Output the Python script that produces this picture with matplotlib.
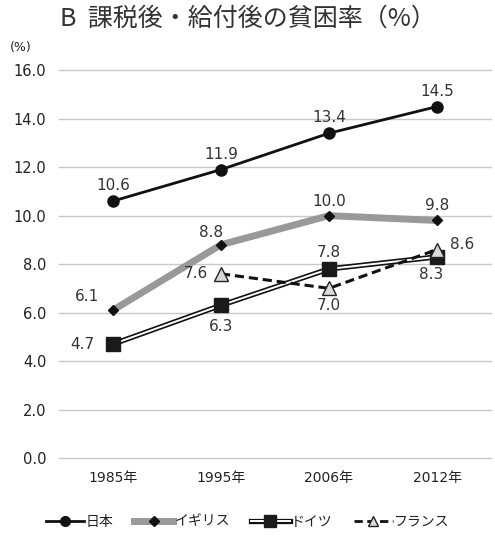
import matplotlib.pyplot as plt
from matplotlib.legend_handler import HandlerTuple
from matplotlib.lines import Line2D

plt.rcParams['font.family'] = ['DejaVu Sans', 'Noto Sans CJK JP']

years = ['1985年', '1995年', '2006年', '2012年']
japan = [10.6, 11.9, 13.4, 14.5]
uk = [6.1, 8.8, 10.0, 9.8]
germany = [4.7, 6.3, 7.8, 8.3]
france = [None, 7.6, 7.0, 8.6]

fig = plt.figure(figsize=(4.95, 5.36), dpi=100)
ax = fig.add_axes([0.119, 0.1455, 0.873, 0.7235])
x = list(range(len(years)))

ax.set_ylim(0, 16)
ax.set_xlim(-0.5, 3.5)
ax.set_yticks([0, 2, 4, 6, 8, 10, 12, 14, 16])
ax.set_yticklabels(['%.1f' % v for v in ax.get_yticks()], fontsize=10.5, color='#222222')
ax.set_xticks(x)
ax.set_xticklabels(years, fontsize=10, color='#222222')
ax.tick_params(length=0, pad=9)
ax.grid(axis='y', color='#c8c8c8', lw=1)
for gl in ax.get_ygridlines():
    gl.set_clip_on(False)
ax.set_axisbelow(True)
for s in ax.spines.values():
    s.set_visible(False)

# lines
ax.plot(x, uk, color='#999999', lw=5, zorder=3, solid_capstyle='butt')
ax.plot(x, uk, ls='none', marker='D', ms=5, color='#111111', zorder=4)
ax.plot(x, germany, color='#111111', lw=3.8, zorder=5)
ax.plot(x, germany, color='white', lw=1.4, zorder=6)
ax.plot(x, germany, ls='none', marker='s', ms=10, color='#1a1a1a', zorder=7)
fx = x[1:]
fy = france[1:]
ax.plot(fx, fy, color='#111111', lw=2.2, ls=(0, (3, 1.6)), zorder=8)
ax.plot(fx, fy, ls='none', marker='^', ms=10, mfc='#d9d9d9', mec='#222222', mew=1, zorder=9)
ax.plot(x, japan, color='#111111', lw=2, marker='o', ms=8, zorder=10)

lab = dict(fontsize=11, color='#333333', ha='center', va='center', zorder=12)
def note(xi, yi, text, dx, dy):
    ax.annotate(text, (xi, yi), xytext=(dx, dy), textcoords='offset points', **lab)

for i, v in enumerate(japan):
    note(i, v, '%.1f' % v, 0, 11)
note(0, uk[0], '6.1', -19, 10)
note(1, uk[1], '8.8', -7, 9)
note(2, uk[2], '10.0', 0, 10)
note(3, uk[3], '9.8', 0, 11)
note(0, germany[0], '4.7', -22, 0)
note(1, germany[1], '6.3', 0, -15)
note(2, germany[2], '7.8', 0, 12)
note(3, germany[3], '8.3', -4, -13)
note(1, france[1], '7.6', -18, 0)
note(2, france[2], '7.0', 0, -12)
note(3, france[3], '8.6', 18, 4)

fig.text(0.02, 0.912, '(%)', fontsize=9, color='#222222', ha='left', va='center')
fig.text(0.5, 0.966, 'B  課税後・給付後の貧困率（%）', fontsize=18, color='#333333',
         ha='center', va='center', family=['Noto Sans CJK JP', 'DejaVu Sans'])

h_jp = Line2D([], [], color='#111111', lw=2, marker='o', ms=7)
h_uk = (Line2D([], [], color='#999999', lw=5),
        Line2D([], [], ls='none', marker='D', ms=5, color='#111111'))
h_de = (Line2D([], [], color='#111111', lw=3.8),
        Line2D([], [], color='white', lw=1.4),
        Line2D([], [], ls='none', marker='s', ms=8, color='#1a1a1a'))
h_fr = (Line2D([], [], color='#111111', lw=2, ls=(0, (3, 1.6))),
        Line2D([], [], ls='none', marker='^', ms=7, mfc='#d9d9d9', mec='#222222'))
leg = fig.legend([h_jp, h_uk, h_de, h_fr], ['日本', 'イギリス', 'ドイツ', 'フランス'],
                 handler_map={tuple: HandlerTuple(ndivide=1, pad=0)},
                 loc='center', bbox_to_anchor=(0.5, 0.027), ncol=4, frameon=False,
                 handlelength=2.8, handletextpad=0.1, columnspacing=1.5,
                 prop={'family': ['Noto Sans CJK JP', 'DejaVu Sans'], 'size': 10})
for t in leg.get_texts():
    t.set_color('#222222')

fig.savefig('out.png', dpi=100)
